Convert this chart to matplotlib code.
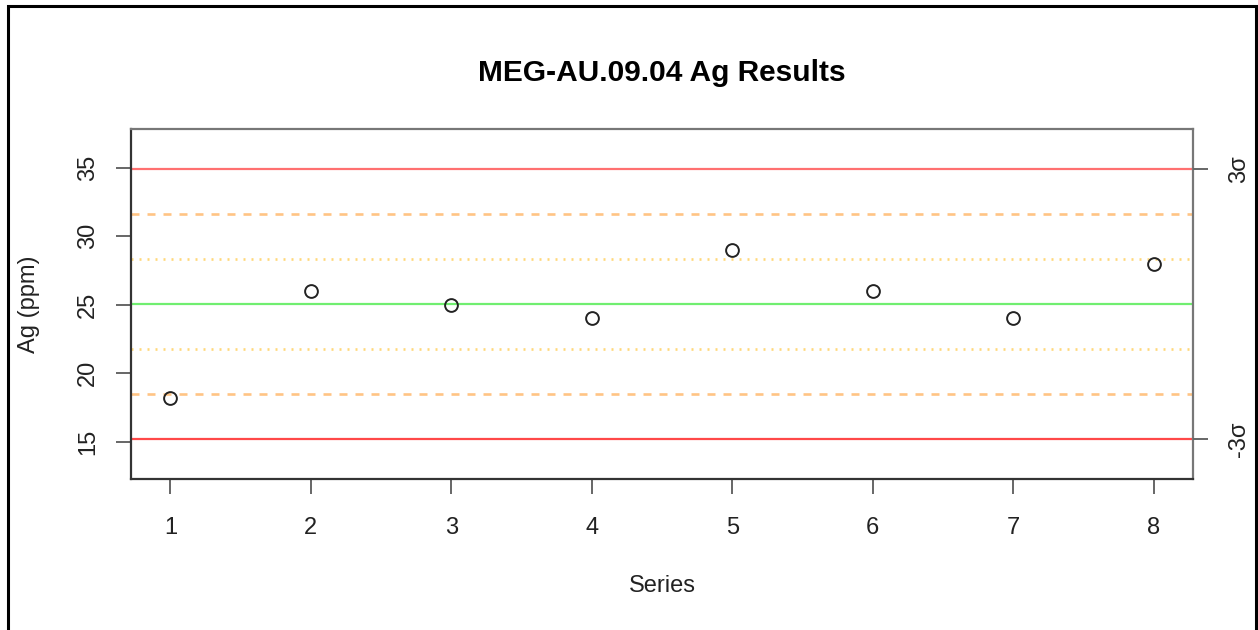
import numpy as np
import matplotlib.pyplot as plt
from matplotlib.patches import Rectangle

plt.rcParams['font.family'] = ['Liberation Sans', 'DejaVu Sans']
plt.rcParams['lines.scale_dashes'] = False

# data
series = [1, 2, 3, 4, 5, 6, 7, 8]
ag_ppm = [18.2, 26, 25, 24, 29, 26, 24, 28]

# control limits
mean_val = 25.03
sd_val = 3.285

fig = plt.figure(figsize=(12.58, 6.30), dpi=100)
ax = fig.add_axes([131 / 1258, 1 - 479 / 630, 1062 / 1258, 349.7 / 630])

lw = 1.6
ax.axhline(mean_val + 3 * sd_val, color='#ff7070', lw=lw, zorder=1)
ax.axhline(mean_val - 3 * sd_val, color='#ff4848', lw=lw, zorder=1)
ax.axhline(mean_val, color='#70ee70', lw=lw, zorder=1)
for k in (2, -2):
    ax.axhline(mean_val + k * sd_val, color='#ffc484', lw=lw + 0.3, dashes=(5.76, 5.76), zorder=1)
for k in (1, -1):
    ax.axhline(mean_val + k * sd_val, color='#ffd878', lw=lw + 0.3, dashes=(1.44, 4.32), zorder=1)

ax.plot(series, ag_ppm, 'o', mfc='none', mec='#222222', ms=9.2, mew=1.4, zorder=3)

ax.set_xlim(0.72, 8.28)
ax.set_ylim(12.28, 37.80)
ax.set_xticks(series)
ax.set_yticks([15, 20, 25, 30, 35])
ax.tick_params(axis='both', length=11, width=1.4, color='#666666', labelsize=17, labelcolor='#222222')
ax.tick_params(axis='x', pad=16)
ax.tick_params(axis='y', pad=12)
for lab in ax.get_yticklabels():
    lab.set_rotation(90)
    lab.set_va('center')

for side in ['top', 'right']:
    ax.spines[side].set_color('#777777')
for side in ['left', 'bottom']:
    ax.spines[side].set_color('#333333')
for sp in ax.spines.values():
    sp.set_linewidth(1.6)

# right-hand sigma labels
ax2 = ax.twinx()
ax2.set_ylim(ax.get_ylim())
ax2.set_yticks([mean_val - 3 * sd_val, mean_val + 3 * sd_val])
ax2.set_yticklabels(['-3σ', '3σ'], rotation=90, va='center')
ax2.tick_params(axis='y', length=11, width=1.4, color='#666666', labelsize=17, labelcolor='#222222', pad=14)
for sp in ax2.spines.values():
    sp.set_visible(False)

ax.set_title('MEG-AU.09.04 Ag Results', fontsize=21.5, fontweight='bold', pad=35)
ax.set_xlabel('Series', fontsize=17, color='#222222', labelpad=26)
ax.set_ylabel('Ag (ppm)', fontsize=17, color='#222222', labelpad=27)

# outer frame
fig.patches.append(Rectangle((7.5 / 1258, -0.1), (1256 - 7.5) / 1258, 1.1 - 6 / 630,
                             transform=fig.transFigure, fill=False, ec='black', lw=2.2))

fig.savefig('out.png', dpi=100)
